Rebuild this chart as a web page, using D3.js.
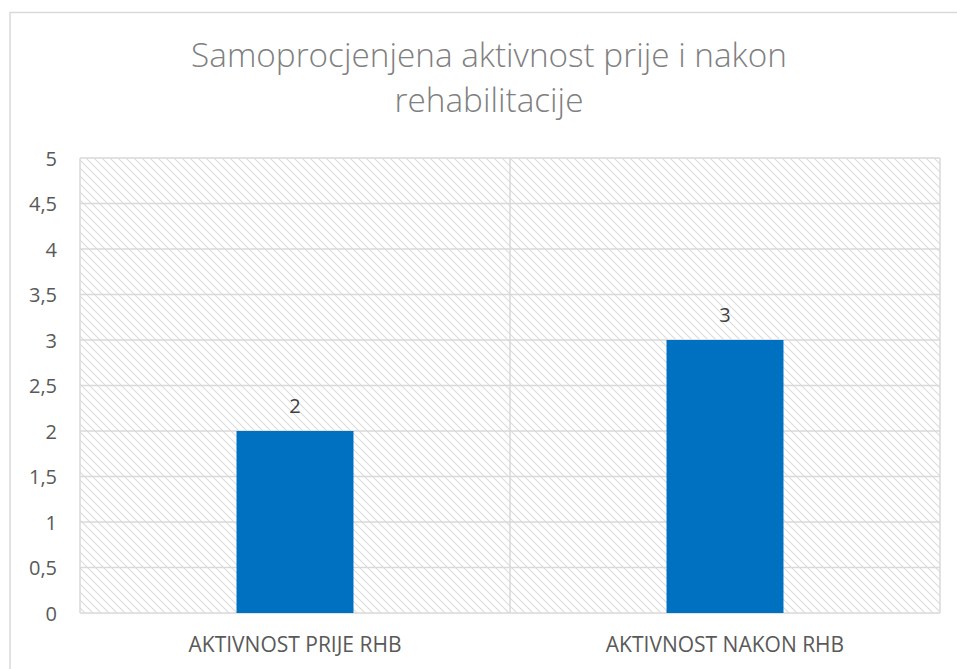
<!DOCTYPE html>
<html><head><meta charset="utf-8">
<script src="https://cdn.jsdelivr.net/npm/d3@7"></script>
<style>body{margin:0;background:#fff}svg{display:block}text{font-family:"Open Sans",sans-serif}</style>
</head><body>
<svg id="c" width="957" height="669"></svg>
<script>
const titleLines = ["Samoprocjenjena aktivnost prije i nakon", "rehabilitacije"];
const categories = ["AKTIVNOST PRIJE RHB", "AKTIVNOST NAKON RHB"];
const values = [2, 3];
const yTicks = [0, 0.5, 1, 1.5, 2, 2.5, 3, 3.5, 4, 4.5, 5];

const svg = d3.select("#c");
const W = 957, H = 669;
const m = {left: 80, right: 17, top: 158, bottom: 56};
const pw = W - m.left - m.right, ph = H - m.top - m.bottom;

const defs = svg.append("defs");
const pat = defs.append("pattern").attr("id","hatch").attr("patternUnits","userSpaceOnUse")
  .attr("width",8).attr("height",8);
pat.append("rect").attr("width",8).attr("height",8).attr("fill","#fff");
pat.append("path").attr("d","M-2,-2 L10,10 M-2,6 L2,10 M6,-2 L10,2")
  .attr("stroke","#dcdcdc").attr("stroke-width",1.1);

// outer border
svg.append("rect").attr("x",10).attr("y",12.5).attr("width",W).attr("height",H)
  .attr("fill","#fff").attr("stroke","#d9d9d9").attr("stroke-width",1.5);

// title
svg.append("text").attr("text-anchor","middle").attr("fill","#808080")
  .attr("font-size",33.3).attr("font-weight",300).selectAll("tspan").data(titleLines).join("tspan")
  .attr("x",489).attr("y",(d,i)=>67+i*45).text(d=>d);

const x = d3.scaleBand().domain(categories).range([m.left, m.left+pw]).paddingInner(0).paddingOuter(0);
const y = d3.scaleLinear().domain([0,5]).range([m.top+ph, m.top]);

const g = svg.append("g");
g.append("rect").attr("x",m.left).attr("y",m.top).attr("width",pw).attr("height",ph).attr("fill","url(#hatch)");

// gridlines
g.selectAll(".gl").data(yTicks).join("line")
  .attr("x1",m.left).attr("x2",m.left+pw).attr("y1",d=>y(d)).attr("y2",d=>y(d))
  .attr("stroke","#d9d9d9").attr("stroke-width",1.5);
// vertical category lines
const vx = [m.left, ...categories.map(c=>x(c)+x.bandwidth())];
g.selectAll(".vl").data(vx).join("line")
  .attr("x1",d=>d).attr("x2",d=>d).attr("y1",m.top).attr("y2",m.top+ph)
  .attr("stroke","#d9d9d9").attr("stroke-width",1.5);

// bars
const bw = x.bandwidth()*0.272;
g.selectAll(".bar").data(values).join("rect")
  .attr("x",(d,i)=>x(categories[i])+x.bandwidth()/2-bw/2)
  .attr("y",d=>y(d)).attr("width",bw).attr("height",d=>y(0)-y(d))
  .attr("fill","#0070C0");

// labels
g.selectAll(".lbl").data(values).join("text")
  .attr("x",(d,i)=>x(categories[i])+x.bandwidth()/2)
  .attr("y",d=>y(d)-18).attr("text-anchor","middle").attr("fill","#404040")
  .attr("font-size",20).text(d=>d);

// y axis
const yAxis = d3.axisLeft(y).tickValues(yTicks).tickSize(0).tickPadding(23)
  .tickFormat(d=>String(d).replace(".",","));
const ya = svg.append("g").attr("transform",`translate(${m.left},0)`).call(yAxis);
ya.select(".domain").remove();
ya.selectAll("text").attr("font-size",20).attr("fill","#595959").attr("font-family","'Open Sans',sans-serif").attr("dy","0.35em");

// x axis
const xAxis = d3.axisBottom(x).tickSize(0).tickPadding(24);
const xa = svg.append("g").attr("transform",`translate(0,${m.top+ph})`).call(xAxis);
xa.select(".domain").remove();
xa.selectAll("text").attr("font-size",21).attr("fill","#595959").attr("font-family","'Open Sans',sans-serif");
</script>
</body></html>
